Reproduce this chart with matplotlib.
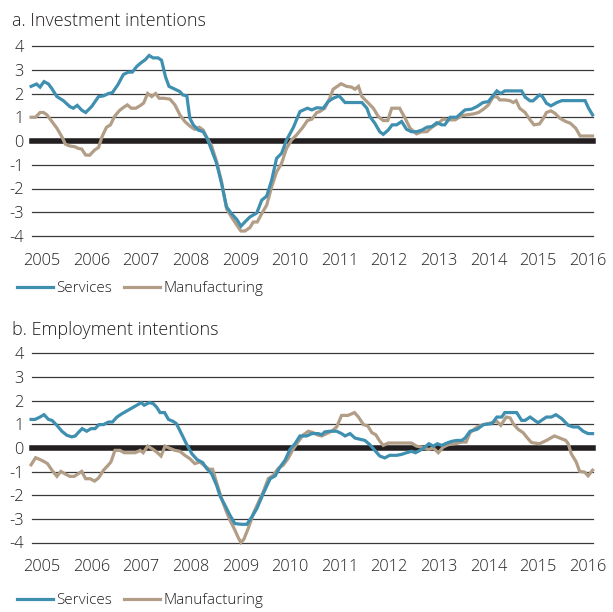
import matplotlib
matplotlib.use("Agg")
import matplotlib.pyplot as plt
from matplotlib.lines import Line2D

# ---------------- data ----------------
years = list(range(2005, 2017))
yticks = [4, 3, 2, 1, 0, -1, -2, -3, -4]

# a. Investment intentions
inv_serv_x = [2004.78, 2004.89, 2004.96, 2005.04, 2005.13, 2005.20, 2005.30, 2005.43, 2005.56, 2005.63,
              2005.71, 2005.80, 2005.88, 2006.00, 2006.14, 2006.24, 2006.34, 2006.42, 2006.53, 2006.64,
              2006.74, 2006.82, 2006.91, 2007.00, 2007.08, 2007.16, 2007.24, 2007.34, 2007.41, 2007.49,
              2007.56, 2007.68, 2007.78, 2007.84, 2007.92, 2007.98, 2008.05, 2008.15, 2008.25, 2008.33,
              2008.42, 2008.52, 2008.62, 2008.72, 2008.82, 2008.93, 2009.01, 2009.09, 2009.19, 2009.33,
              2009.43, 2009.53, 2009.63, 2009.73, 2009.83, 2009.93, 2010.07, 2010.20, 2010.35, 2010.44,
              2010.54, 2010.67, 2010.77, 2010.87, 2010.99, 2011.11, 2011.24, 2011.45, 2011.55, 2011.61,
              2011.71, 2011.81, 2011.88, 2011.98, 2012.06, 2012.15, 2012.25, 2012.35, 2012.45, 2012.55,
              2012.66, 2012.76, 2012.86, 2012.96, 2013.06, 2013.12, 2013.23, 2013.36, 2013.49, 2013.53,
              2013.66, 2013.77, 2013.89, 2014.00, 2014.09, 2014.17, 2014.25, 2014.33, 2014.50, 2014.67,
              2014.74, 2014.84, 2014.90, 2015.03, 2015.09, 2015.17, 2015.26, 2015.38, 2015.48, 2015.65,
              2015.85, 2015.95, 2016.02, 2016.10]
inv_serv_y = [2.30, 2.40, 2.27, 2.50, 2.40, 2.20, 1.87, 1.70, 1.45, 1.38,
              1.50, 1.30, 1.20, 1.45, 1.87, 1.90, 2.00, 2.04, 2.37, 2.80,
              2.90, 2.90, 3.14, 3.30, 3.42, 3.60, 3.50, 3.50, 3.40, 2.70,
              2.30, 2.18, 2.08, 1.94, 1.90, 0.96, 0.68, 0.46, 0.39, 0.11,
              -0.38, -0.94, -1.79, -2.77, -3.06, -3.31, -3.59, -3.41, -3.20, -3.03,
              -2.49, -2.32, -1.65, -0.73, -0.52, 0.04, 0.58, 1.24, 1.38, 1.31,
              1.40, 1.38, 1.66, 1.80, 1.90, 1.62, 1.62, 1.62, 1.38, 1.03,
              0.75, 0.39, 0.28, 0.46, 0.68, 0.68, 0.82, 0.49, 0.39, 0.39,
              0.46, 0.58, 0.61, 0.77, 0.68, 0.68, 1.00, 1.00, 1.24, 1.31,
              1.34, 1.45, 1.62, 1.66, 1.90, 2.11, 2.00, 2.11, 2.11, 2.11,
              1.85, 1.69, 1.69, 1.94, 1.87, 1.59, 1.48, 1.62, 1.70, 1.70,
              1.70, 1.70, 1.38, 1.10]

inv_manu_x = [2004.78, 2004.87, 2004.96, 2005.03, 2005.10, 2005.20, 2005.30, 2005.40, 2005.47, 2005.56,
              2005.66, 2005.73, 2005.80, 2005.88, 2005.96, 2006.06, 2006.14, 2006.21, 2006.30, 2006.38,
              2006.46, 2006.56, 2006.64, 2006.72, 2006.80, 2006.89, 2006.98, 2007.05, 2007.13, 2007.21,
              2007.29, 2007.36, 2007.46, 2007.58, 2007.68, 2007.78, 2007.88, 2007.98, 2008.08, 2008.17,
              2008.25, 2008.33, 2008.42, 2008.52, 2008.62, 2008.72, 2008.82, 2008.93, 2009.01, 2009.09,
              2009.19, 2009.26, 2009.34, 2009.43, 2009.53, 2009.63, 2009.73, 2009.83, 2009.93, 2010.03,
              2010.13, 2010.26, 2010.35, 2010.44, 2010.54, 2010.60, 2010.70, 2010.80, 2010.87, 2011.03,
              2011.14, 2011.24, 2011.31, 2011.38, 2011.45, 2011.55, 2011.68, 2011.78, 2011.88, 2011.97,
              2012.05, 2012.21, 2012.32, 2012.42, 2012.55, 2012.66, 2012.76, 2012.86, 2012.99, 2013.09,
              2013.23, 2013.33, 2013.46, 2013.56, 2013.70, 2013.80, 2013.90, 2014.00, 2014.10, 2014.18,
              2014.23, 2014.33, 2014.43, 2014.50, 2014.56, 2014.63, 2014.74, 2014.84, 2014.92, 2015.03,
              2015.11, 2015.17, 2015.26, 2015.34, 2015.44, 2015.56, 2015.65, 2015.76, 2015.85, 2015.95,
              2016.10]
inv_manu_y = [1.00, 1.00, 1.20, 1.20, 1.10, 0.82, 0.54, 0.18, -0.13, -0.21,
              -0.24, -0.31, -0.34, -0.59, -0.60, -0.38, -0.27, 0.18, 0.58, 0.68,
              1.03, 1.28, 1.41, 1.52, 1.38, 1.38, 1.49, 1.60, 2.00, 1.87,
              2.00, 1.80, 1.80, 1.76, 1.52, 1.10, 0.82, 0.63, 0.49, 0.58,
              0.46, 0.11, -0.21, -0.87, -1.72, -2.85, -3.20, -3.55, -3.79, -3.79,
              -3.65, -3.41, -3.41, -3.06, -2.70, -1.93, -1.30, -0.94, -0.31, 0.04,
              0.25, 0.58, 0.86, 0.92, 1.20, 1.24, 1.38, 1.80, 2.18, 2.41,
              2.30, 2.27, 2.18, 2.30, 1.87, 1.66, 1.38, 1.03, 0.86, 0.86,
              1.38, 1.38, 0.96, 0.54, 0.30, 0.39, 0.39, 0.58, 0.75, 0.92,
              0.89, 0.89, 1.06, 1.10, 1.14, 1.20, 1.34, 1.52, 1.87, 1.85,
              1.73, 1.73, 1.70, 1.62, 1.70, 1.38, 1.20, 0.89, 0.68, 0.72,
              0.96, 1.20, 1.27, 1.17, 0.96, 0.82, 0.75, 0.54, 0.21, 0.21,
              0.21]

# b. Employment intentions
emp_serv_x = [2004.78, 2004.86, 2004.96, 2005.04, 2005.13, 2005.20, 2005.30, 2005.40, 2005.50, 2005.60,
              2005.67, 2005.73, 2005.81, 2005.90, 2005.99, 2006.07, 2006.15, 2006.24, 2006.34, 2006.42,
              2006.51, 2006.61, 2006.71, 2006.81, 2006.91, 2007.00, 2007.06, 2007.16, 2007.24, 2007.31,
              2007.38, 2007.47, 2007.55, 2007.65, 2007.71, 2007.81, 2007.91, 2008.02, 2008.12, 2008.24,
              2008.32, 2008.42, 2008.52, 2008.59, 2008.69, 2008.79, 2008.89, 2009.03, 2009.13, 2009.23,
              2009.33, 2009.46, 2009.60, 2009.70, 2009.80, 2009.90, 2010.00, 2010.10, 2010.20, 2010.34,
              2010.44, 2010.57, 2010.64, 2010.70, 2010.80, 2010.94, 2011.04, 2011.11, 2011.21, 2011.31,
              2011.41, 2011.51, 2011.61, 2011.71, 2011.81, 2011.91, 2012.01, 2012.15, 2012.25, 2012.35,
              2012.45, 2012.53, 2012.62, 2012.72, 2012.80, 2012.89, 2012.97, 2013.06, 2013.16, 2013.26,
              2013.36, 2013.46, 2013.53, 2013.63, 2013.77, 2013.90, 2014.07, 2014.17, 2014.27, 2014.33,
              2014.57, 2014.67, 2014.74, 2014.84, 2015.00, 2015.17, 2015.27, 2015.36, 2015.48, 2015.61,
              2015.71, 2015.81, 2015.91, 2016.01, 2016.10]
emp_serv_y = [1.21, 1.21, 1.31, 1.41, 1.21, 1.17, 0.96, 0.71, 0.54, 0.47,
              0.51, 0.65, 0.82, 0.71, 0.82, 0.82, 0.99, 0.99, 1.10, 1.10,
              1.31, 1.45, 1.57, 1.69, 1.81, 1.92, 1.81, 1.92, 1.88, 1.73,
              1.50, 1.50, 1.21, 1.12, 1.03, 0.61, 0.18, -0.24, -0.48, -0.62,
              -0.87, -1.09, -1.58, -2.03, -2.43, -2.85, -3.20, -3.23, -3.23, -2.92,
              -2.57, -1.93, -1.30, -1.18, -0.80, -0.52, -0.06, 0.18, 0.51, 0.51,
              0.61, 0.61, 0.56, 0.68, 0.71, 0.71, 0.61, 0.51, 0.61, 0.42,
              0.37, 0.32, 0.14, -0.10, -0.34, -0.42, -0.31, -0.31, -0.27, -0.20,
              -0.14, -0.20, -0.10, 0.04, 0.18, 0.08, 0.18, 0.11, 0.21, 0.28,
              0.32, 0.32, 0.42, 0.71, 0.79, 0.99, 1.03, 1.31, 1.31, 1.50,
              1.50, 1.17, 1.17, 1.31, 1.07, 1.31, 1.31, 1.41, 1.24, 0.96,
              0.89, 0.89, 0.71, 0.61, 0.61]

emp_manu_x = [2004.78, 2004.87, 2004.96, 2005.03, 2005.11, 2005.20, 2005.30, 2005.38, 2005.46, 2005.56,
              2005.65, 2005.73, 2005.80, 2005.88, 2005.97, 2006.06, 2006.14, 2006.24, 2006.32, 2006.39,
              2006.47, 2006.57, 2006.66, 2006.74, 2006.88, 2006.98, 2007.04, 2007.13, 2007.24, 2007.31,
              2007.40, 2007.48, 2007.56, 2007.68, 2007.78, 2007.88, 2007.98, 2008.08, 2008.18, 2008.28,
              2008.37, 2008.44, 2008.52, 2008.62, 2008.72, 2008.79, 2008.89, 2008.96, 2009.01, 2009.07,
              2009.16, 2009.26, 2009.36, 2009.46, 2009.56, 2009.66, 2009.76, 2009.86, 2009.96, 2010.06,
              2010.16, 2010.26, 2010.37, 2010.47, 2010.57, 2010.64, 2010.74, 2010.84, 2010.94, 2011.04,
              2011.17, 2011.30, 2011.38, 2011.48, 2011.57, 2011.65, 2011.73, 2011.80, 2011.88, 2011.98,
              2012.12, 2012.28, 2012.45, 2012.55, 2012.65, 2012.79, 2012.89, 2012.99, 2013.09, 2013.19,
              2013.33, 2013.46, 2013.55, 2013.63, 2013.77, 2013.90, 2014.07, 2014.17, 2014.25, 2014.36,
              2014.44, 2014.50, 2014.60, 2014.70, 2014.80, 2014.87, 2015.03, 2015.17, 2015.33, 2015.44,
              2015.56, 2015.61, 2015.67, 2015.77, 2015.84, 2015.94, 2016.01, 2016.10]
emp_manu_y = [-0.71, -0.41, -0.49, -0.56, -0.66, -0.94, -1.20, -0.99, -1.09, -1.20,
              -1.20, -1.09, -0.99, -1.30, -1.30, -1.40, -1.27, -0.94, -0.76, -0.59,
              -0.10, -0.10, -0.20, -0.20, -0.20, -0.10, -0.20, 0.08, -0.06, -0.17,
              -0.34, 0.08, 0.00, -0.10, -0.14, -0.31, -0.45, -0.66, -0.59, -0.76,
              -0.90, -0.90, -1.47, -2.14, -2.71, -3.06, -3.48, -3.81, -4.00, -3.86,
              -3.39, -2.78, -2.31, -1.86, -1.30, -1.16, -0.87, -0.73, -0.45, -0.06,
              0.25, 0.54, 0.71, 0.65, 0.54, 0.51, 0.61, 0.71, 0.89, 1.38,
              1.38, 1.50, 1.31, 0.99, 0.93, 0.65, 0.56, 0.32, 0.11, 0.21,
              0.21, 0.21, 0.21, 0.08, 0.04, -0.06, 0.00, -0.20, 0.04, 0.14,
              0.18, 0.25, 0.25, 0.65, 0.89, 0.99, 1.07, 1.13, 0.96, 1.31,
              1.27, 1.03, 0.79, 0.65, 0.39, 0.23, 0.18, 0.32, 0.51, 0.42,
              0.32, 0.18, -0.24, -0.59, -0.99, -1.02, -1.18, -0.94]

titles = ["a. Investment intentions", "b. Employment intentions"]
series_names = ["Services", "Manufacturing"]

# ---------------- style ----------------
BLUE = "#3f8fb1"
BROWN = "#b29d86"
FONT = "Open Sans"
plt.rcParams["font.family"] = [FONT, "DejaVu Sans"]
plt.rcParams["font.weight"] = "light"
TXT = "#231f20"

W, H = 613, 612
fig = plt.figure(figsize=(W / 100, H / 100), dpi=100)


def px_axes(left, top, right, bottom):
    return fig.add_axes([left / W, 1 - bottom / H, (right - left) / W, (bottom - top) / H])


panels = [
    dict(box=(32, 46, 593, 236), title_y=21, legend_y=289,
         data=[(inv_serv_x, inv_serv_y), (inv_manu_x, inv_manu_y)]),
    dict(box=(32, 353.5, 593, 542.5), title_y=330, legend_y=601,
         data=[(emp_serv_x, emp_serv_y), (emp_manu_x, emp_manu_y)]),
]

for i, p in enumerate(panels):
    ax = px_axes(*p["box"])
    ax.set_xlim(2004.798, 2016.109)
    ax.set_ylim(-4, 4)
    for s in ax.spines.values():
        s.set_visible(False)
    for v in yticks:
        if v == 0:
            continue
        ax.axhline(v, color="#3a3a3a", lw=0.9, zorder=1, clip_on=False)
    ax.axhline(0, color=TXT, lw=4.0, zorder=2, clip_on=False)
    (sx, sy), (mx, my) = p["data"]
    ax.plot(mx, my, color=BROWN, lw=2.3, zorder=3, clip_on=False, solid_joinstyle="miter")
    ax.plot(sx, sy, color=BLUE, lw=2.3, zorder=4, clip_on=False, solid_joinstyle="miter")
    ax.set_yticks(yticks)
    ax.set_yticklabels([str(v) for v in yticks])
    ax.set_xticks(years)
    ax.set_xticklabels([str(y) for y in years])
    ax.tick_params(axis="both", length=0, labelsize=11.8, colors=TXT)
    ax.tick_params(axis="y", pad=6)
    ax.tick_params(axis="x", pad=12)
    fig.text(12 / W, 1 - p["title_y"] / H, titles[i], fontsize=13, color=TXT,
             ha="left", va="center")
    handles = [Line2D([0], [0], color=BLUE, lw=2.3), Line2D([0], [0], color=BROWN, lw=2.3)]
    leg = fig.legend(handles, series_names, loc="center left",
                     bbox_to_anchor=(17 / W, 1 - p["legend_y"] / H), ncol=2, frameon=False,
                     fontsize=11, handlelength=2.35, handletextpad=0.2, columnspacing=0.8,
                     borderaxespad=0, borderpad=0)
    for t in leg.get_texts():
        t.set_color(TXT)

fig.savefig("out.png", dpi=100)
